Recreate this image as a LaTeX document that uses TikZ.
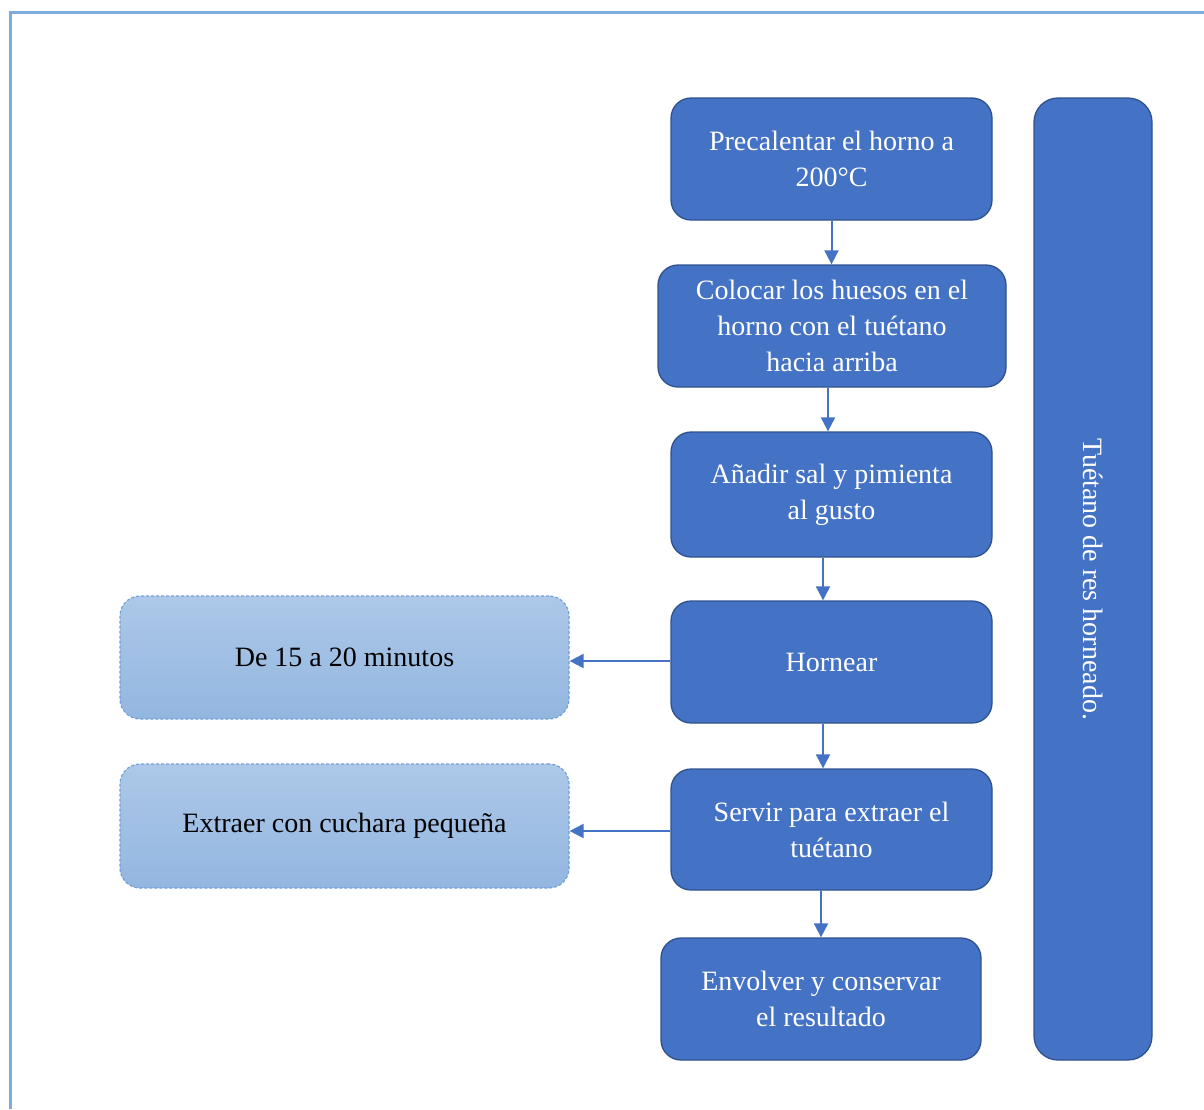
\documentclass[tikz,border=0pt]{standalone}
\usepackage{fontspec}
\setmainfont{Liberation Serif}
\usetikzlibrary{arrows.meta}
\definecolor{dblue}{HTML}{4472C4}
\definecolor{dedge}{HTML}{2F528F}
\definecolor{ltop}{HTML}{ADC8E8}
\definecolor{lbot}{HTML}{93B6E0}
\definecolor{ledge}{HTML}{6FA0D8}
\definecolor{frame}{HTML}{7FAADC}
\tikzset{
  stepbox/.style={draw=dedge, line width=1.3pt, fill=dblue, rounded corners=20pt,
    text=white, align=center, font=\fontsize{28}{36}\selectfont, inner sep=0pt},
  notebox/.style={draw=ledge, line width=1.2pt, dash pattern=on 3pt off 2pt,
    top color=ltop, bottom color=lbot, rounded corners=20pt,
    text=black, align=center, font=\fontsize{28}{36}\selectfont, inner sep=0pt,
    minimum width=449pt, minimum height=123pt},
  conn/.style={draw=dblue, line width=2pt, -{Triangle[length=14pt,width=14pt]}},
}
\begin{document}
\begin{tikzpicture}[x=1pt,y=-1pt]
\useasboundingbox (0,0) rectangle (1204,1109);
\draw[frame, line width=3pt] (10.5,1109) -- (10.5,12.5) -- (1204,12.5);

\node[stepbox, minimum width=321pt, minimum height=122pt] (s1) at (831.5,159) {Precalentar el horno a\\200°C};
\node[stepbox, minimum width=348pt, minimum height=122pt] (s2) at (832,326) {Colocar los huesos en el\\horno con el tuétano\\hacia arriba};
\node[stepbox, minimum width=321pt, minimum height=125pt] (s3) at (831.5,494.5) {Añadir sal y pimienta\\al gusto};
\node[stepbox, minimum width=321pt, minimum height=122pt] (s4) at (831.5,662) {Hornear};
\node[stepbox, minimum width=321pt, minimum height=121pt] (s5) at (831.5,829.5) {Servir para extraer el\\tuétano};
\node[stepbox, minimum width=320pt, minimum height=122pt] (s6) at (821,999) {Envolver y conservar\\el resultado};

\node[stepbox, rounded corners=24pt, minimum width=118pt, minimum height=962pt] (side) at (1093,579) {};
\node[text=white, font=\fontsize{28}{36}\selectfont, rotate=-90] (sidetext) at (side.center) {Tuétano de res horneado.};

\node[notebox] (n1) at (344.5,657.5) {De 15 a 20 minutos};
\node[notebox, minimum height=124pt] (n2) at (344.5,826) {Extraer con cuchara pequeña};

\draw[conn] (s1.south) -- (s1.south |- s2.north);
\draw[conn] (s2.south -| 828,0) -- (s3.north -| 828,0);
\draw[conn] (s3.south -| 823,0) -- (s4.north -| 823,0);
\draw[conn] (s4.south -| 823,0) -- (s5.north -| 823,0);
\draw[conn] (s5.south -| 821,0) -- (s6.north -| 821,0);
\draw[conn] (s4.west |- 0,661) -- (n1.east |- 0,661);
\draw[conn] (s5.west |- 0,831) -- (n2.east |- 0,831);
\end{tikzpicture}
\end{document}
